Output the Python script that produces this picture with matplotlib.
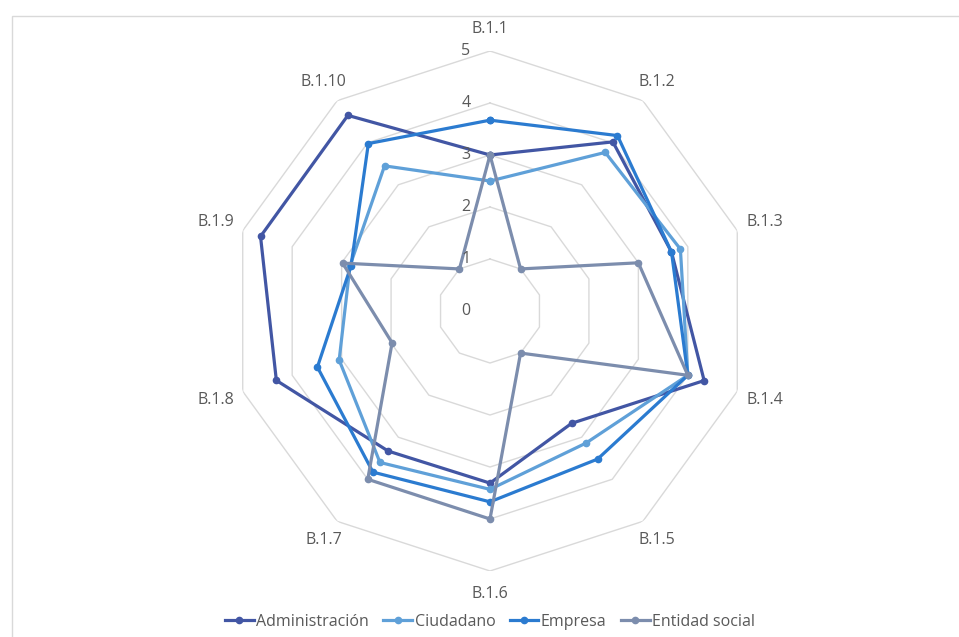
import numpy as np
import matplotlib
matplotlib.use("Agg")
import matplotlib.pyplot as plt
from matplotlib.patches import Rectangle
from matplotlib.lines import Line2D
import matplotlib.transforms as mtransforms

categories = ["B.1.1", "B.1.2", "B.1.3", "B.1.4", "B.1.5",
              "B.1.6", "B.1.7", "B.1.8", "B.1.9", "B.1.10"]
administracion = [3.0, 4.02, 3.67, 4.33, 2.67, 3.31, 3.33, 4.32, 4.64, 4.65]
ciudadano = [2.5, 3.77, 3.85, 4.0, 3.14, 3.43, 3.6, 3.05, 2.83, 3.45]
empresa = [3.67, 4.17, 3.67, 4.0, 3.52, 3.67, 3.83, 3.49, 2.81, 3.98]
entidad_social = [3.0, 1.0, 3.0, 4.0, 1.0, 4.0, 4.0, 1.98, 2.98, 1.0]
series_names = ["Administración", "Ciudadano", "Empresa", "Entidad social"]
radial_ticks = [0, 1, 2, 3, 4, 5]

colors = ["#4256A4", "#5FA0D8", "#2B7BD0", "#7C8DAD"]
series = [administracion, ciudadano, empresa, entidad_social]

plt.rcParams['font.family'] = ['Open Sans', 'DejaVu Sans']

W, H = 959, 637
fig = plt.figure(figsize=(W / 100, H / 100), dpi=100)

# chart border (partially visible)
fig.patches.append(Rectangle((12 / W, -0.05), 1.0, (H - 16) / H + 0.05,
                             transform=fig.transFigure, fill=False,
                             edgecolor="#D9D9D9", linewidth=1))

cx, cy, R = 490, 311, 260
ax = fig.add_axes([(cx - R) / W, (H - cy - R) / H, 2 * R / W, 2 * R / H],
                  projection="polar")
ax.set_theta_offset(np.pi / 2)
ax.set_theta_direction(-1)
ax.set_ylim(0, 5)
ax.set_axis_off()

n = len(categories)
angles = np.linspace(0, 2 * np.pi, n, endpoint=False)
closed = np.concatenate([angles, angles[:1]])

for r in radial_ticks[1:]:
    ax.plot(closed, [r] * (n + 1), color="#D9D9D9", linewidth=1, zorder=1)

for vals, c, name in zip(series, colors, series_names):
    v = list(vals) + [vals[0]]
    ax.plot(closed, v, color=c, linewidth=2.3, marker="o", markersize=4.5,
            label=name, zorder=3, clip_on=False)

off = mtransforms.offset_copy(ax.transData, fig=fig, x=-24, y=0, units="dots")
for r in radial_ticks:
    ax.text(0, r, str(r), transform=off, ha="center", va="center",
            fontsize=11.5, color="#595959")

label_r = [5.42, 5.45, 5.55, 5.55, 5.45, 5.45, 5.45, 5.55, 5.55, 5.45]
for a, lab, lr in zip(angles, categories, label_r):
    ax.text(a, lr, lab, ha="center", va="center", fontsize=11.5,
            color="#595959")

handles = [Line2D([0], [0], color=c, linewidth=2.3, marker="o", markersize=4.5)
           for c in colors]
fig.legend(handles, series_names, loc="center", ncol=4, frameon=False,
           bbox_to_anchor=(490 / W, (H - 622) / H), fontsize=11.5,
           handlelength=1.8, handletextpad=0.15, columnspacing=0.9,
           labelcolor="#595959")

fig.savefig("out.png", dpi=100, facecolor="white")
